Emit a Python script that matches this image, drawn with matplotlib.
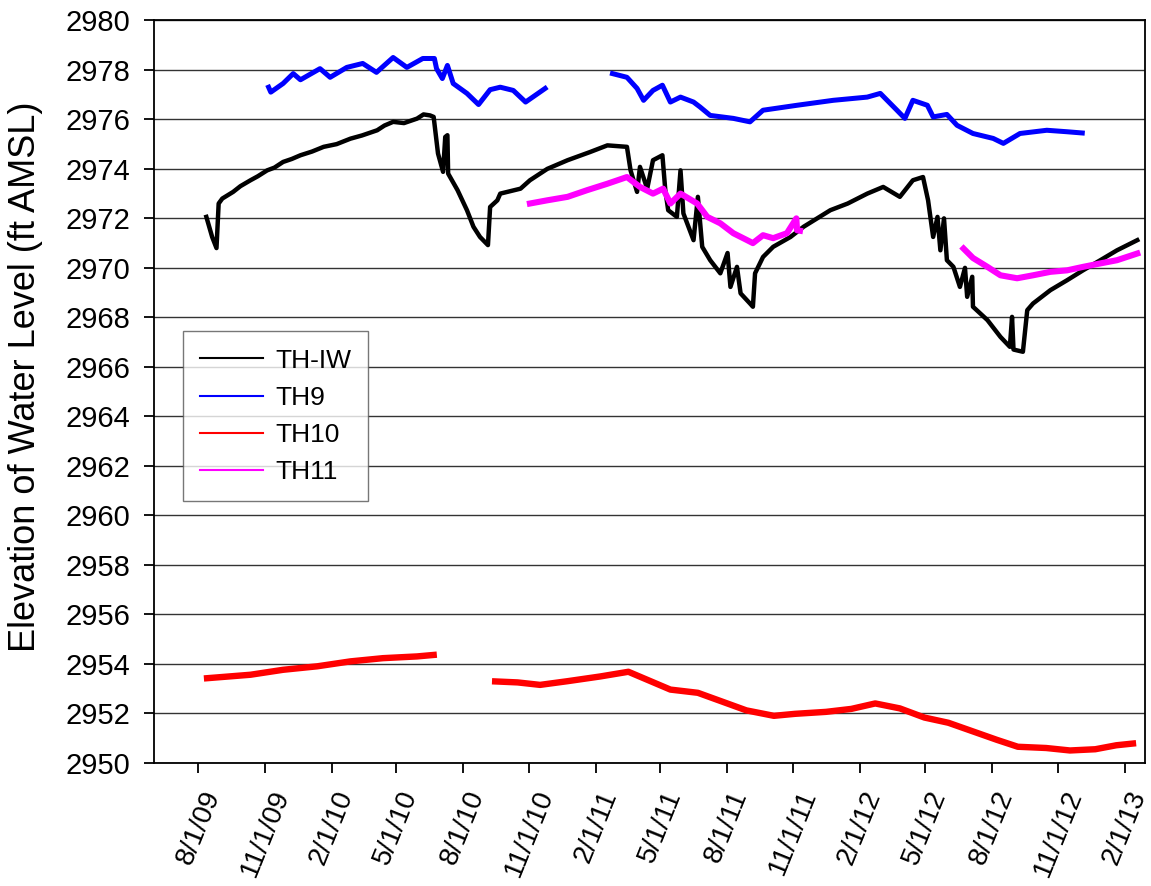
import numpy as np
import pandas as pd
import matplotlib
matplotlib.use("Agg")
import matplotlib.pyplot as plt

plt.rcParams['font.family'] = ['Liberation Sans', 'DejaVu Sans']

# TH-IW (black)
iw_dates = ['2009-08-12', '2009-08-20', '2009-08-26', '2009-08-29', '2009-09-03', '2009-09-18',
            '2009-09-28', '2009-10-12', '2009-10-22', '2009-11-04', '2009-11-14', '2009-11-26',
            '2009-12-08', '2009-12-20', '2010-01-05', '2010-01-21', '2010-02-08', '2010-02-27',
            '2010-03-15', '2010-04-05', '2010-04-15', '2010-04-27', '2010-05-12', '2010-05-30',
            '2010-06-08', '2010-06-17', '2010-06-22', '2010-06-28',
            '2010-07-05', '2010-07-08', '2010-07-11', '2010-07-12', '2010-07-25', '2010-08-07',
            '2010-08-16', '2010-08-25', '2010-09-05', '2010-09-08', '2010-09-18', '2010-09-22',
            '2010-10-20', '2010-11-02', '2010-11-26', '2010-12-24', '2011-01-24', '2011-02-17',
            '2011-03-16', '2011-03-21', '2011-03-30', '2011-04-03', '2011-04-13', '2011-04-21',
            '2011-05-04', '2011-05-08', '2011-05-12', '2011-05-24', '2011-05-29', '2011-06-02',
            '2011-06-09', '2011-06-16', '2011-06-22', '2011-06-28', '2011-07-09', '2011-07-23',
            '2011-08-02', '2011-08-06', '2011-08-15', '2011-08-20', '2011-09-02', '2011-09-06',
            '2011-09-09', '2011-09-20', '2011-10-04', '2011-10-28', '2011-11-15', '2011-12-22',
            '2012-01-15', '2012-02-11', '2012-03-04', '2012-03-27', '2012-04-14', '2012-04-28',
            '2012-05-05', '2012-05-12', '2012-05-18', '2012-05-22', '2012-05-27', '2012-05-31',
            '2012-06-09', '2012-06-18', '2012-06-25', '2012-06-28', '2012-07-05', '2012-07-06',
            '2012-07-26', '2012-08-13', '2012-08-26', '2012-08-29', '2012-08-31', '2012-09-13',
            '2012-09-19', '2012-09-27', '2012-10-21', '2012-11-13', '2012-12-05', '2012-12-29',
            '2013-01-21', '2013-02-18']
iw_vals = [2972.06, 2971.25, 2970.80, 2972.60, 2972.80, 2973.07,
           2973.30, 2973.54, 2973.70, 2973.94, 2974.05, 2974.28,
           2974.40, 2974.55, 2974.70, 2974.89, 2975.00, 2975.22,
           2975.35, 2975.56, 2975.75, 2975.90, 2975.85, 2976.03,
           2976.20, 2976.16, 2976.10, 2974.62,
           2973.88, 2975.29, 2975.36, 2973.81, 2973.14, 2972.33,
           2971.66, 2971.25, 2970.92, 2972.46, 2972.73, 2973.00,
           2973.20, 2973.54, 2974.00, 2974.35, 2974.68, 2974.95,
           2974.89, 2973.94, 2973.07, 2974.08, 2973.20, 2974.35,
           2974.55, 2973.14, 2972.33, 2972.06, 2973.94, 2972.20,
           2971.66, 2971.12, 2972.87, 2970.85, 2970.31, 2969.78,
           2970.60, 2969.23, 2970.04, 2968.97, 2968.56, 2968.43,
           2969.78, 2970.44, 2970.85, 2971.25, 2971.66, 2972.33,
           2972.60, 2973.00, 2973.27, 2972.87, 2973.54, 2973.67,
           2972.73, 2971.25, 2972.06, 2970.71, 2972.00, 2970.31,
           2970.04, 2969.23, 2970.00, 2968.83, 2969.64, 2968.43,
           2967.89, 2967.21, 2966.81, 2968.02, 2966.70, 2966.61,
           2968.29, 2968.56, 2969.10, 2969.50, 2969.90, 2970.31,
           2970.71, 2971.12]

# TH9 (blue), two records
th9a_dates = ['2009-11-06', '2009-11-09', '2009-11-26', '2009-12-10', '2009-12-20', '2010-01-16',
              '2010-01-30', '2010-02-22', '2010-03-16', '2010-04-04', '2010-04-27', '2010-05-16',
              '2010-06-07', '2010-06-23', '2010-06-26', '2010-07-04', '2010-07-11', '2010-07-19',
              '2010-08-07', '2010-08-23', '2010-09-08', '2010-09-22', '2010-10-10', '2010-10-27',
              '2010-11-23']
th9a_vals = [2977.30, 2977.10, 2977.45, 2977.85, 2977.60, 2978.05,
             2977.70, 2978.10, 2978.26, 2977.90, 2978.50, 2978.10,
             2978.46, 2978.46, 2978.05, 2977.65, 2978.18, 2977.45,
             2977.05, 2976.60, 2977.20, 2977.30, 2977.17, 2976.70,
             2977.25]
th9b_dates = ['2011-02-24', '2011-03-16', '2011-03-30', '2011-04-08', '2011-04-21', '2011-05-04',
              '2011-05-15', '2011-05-29', '2011-06-16', '2011-06-25', '2011-07-09', '2011-08-10',
              '2011-09-02', '2011-09-20', '2011-11-06', '2011-12-26', '2012-02-11', '2012-02-29',
              '2012-03-23', '2012-04-03', '2012-04-14', '2012-05-04', '2012-05-12', '2012-05-31',
              '2012-06-14', '2012-07-06', '2012-08-03', '2012-08-17', '2012-09-09', '2012-10-16',
              '2012-11-13', '2012-12-04']
th9b_vals = [2977.85, 2977.70, 2977.25, 2976.77, 2977.17, 2977.38,
             2976.70, 2976.90, 2976.70, 2976.50, 2976.16, 2976.04,
             2975.90, 2976.37, 2976.57, 2976.77, 2976.90, 2977.05,
             2976.37, 2976.04, 2976.77, 2976.57, 2976.10, 2976.20,
             2975.76, 2975.43, 2975.23, 2975.03, 2975.43, 2975.56,
             2975.50, 2975.45]

# TH10 (red), two records
th10a_dates = ['2009-08-13', '2009-10-12', '2009-11-26', '2010-01-12', '2010-02-27', '2010-04-13',
               '2010-05-30', '2010-06-22']
th10a_vals = [2953.42, 2953.56, 2953.76, 2953.90, 2954.10, 2954.23,
              2954.30, 2954.36]
th10b_dates = ['2010-09-15', '2010-10-16', '2010-11-16', '2010-12-24', '2011-02-07', '2011-03-18',
               '2011-05-15', '2011-06-22', '2011-07-26', '2011-08-28', '2011-10-05', '2011-11-03',
               '2011-12-16', '2012-01-20', '2012-02-22', '2012-03-27', '2012-04-30', '2012-06-02',
               '2012-07-06', '2012-08-08', '2012-09-06', '2012-10-15', '2012-11-17', '2012-12-22',
               '2013-01-20', '2013-02-12']
th10b_vals = [2953.29, 2953.25, 2953.15, 2953.30, 2953.49, 2953.68,
              2952.96, 2952.83, 2952.47, 2952.12, 2951.90, 2951.98,
              2952.06, 2952.18, 2952.40, 2952.20, 2951.83, 2951.62,
              2951.27, 2950.93, 2950.65, 2950.60, 2950.50, 2950.55,
              2950.71, 2950.78]

# TH11 (magenta), two records
th11a_dates = ['2010-11-02', '2010-11-26', '2010-12-24', '2011-01-20', '2011-02-17', '2011-03-16',
               '2011-04-03', '2011-04-21', '2011-05-05', '2011-05-15', '2011-05-29', '2011-06-21',
               '2011-07-05', '2011-07-23', '2011-08-10', '2011-08-29', '2011-09-06', '2011-09-20',
               '2011-10-04', '2011-10-23', '2011-11-05', '2011-11-06', '2011-11-10']
th11a_vals = [2972.60, 2972.73, 2972.87, 2973.14, 2973.40, 2973.67,
              2973.27, 2973.00, 2973.20, 2972.60, 2973.00, 2972.60,
              2972.06, 2971.80, 2971.40, 2971.12, 2971.00, 2971.32,
              2971.20, 2971.40, 2972.00, 2971.52, 2971.50]
th11b_dates = ['2012-06-23', '2012-07-06', '2012-07-26', '2012-08-13', '2012-09-05', '2012-09-27',
               '2012-10-21', '2012-11-13', '2012-12-05', '2012-12-29', '2013-01-21', '2013-02-18']
th11b_vals = [2970.78, 2970.40, 2970.04, 2969.70, 2969.58, 2969.70,
              2969.84, 2969.90, 2970.04, 2970.18, 2970.31, 2970.58]

tick_dates = pd.date_range('2009-08-01', '2013-02-01', freq='3MS')

fig = plt.figure(figsize=(11.51, 8.86), dpi=100)
ax = fig.add_axes([0.134, 0.139, 0.861, 0.838])

ax.plot(pd.to_datetime(iw_dates), iw_vals, color='black', lw=3.2, label='TH-IW', zorder=3)
ax.plot(pd.to_datetime(th9a_dates), th9a_vals, color='#0000ff', lw=3.6, label='TH9', zorder=3)
ax.plot(pd.to_datetime(th9b_dates), th9b_vals, color='#0000ff', lw=3.6, zorder=3)
ax.plot(pd.to_datetime(th10a_dates), th10a_vals, color='#ff0000', lw=4.6, label='TH10', zorder=3)
ax.plot(pd.to_datetime(th10b_dates), th10b_vals, color='#ff0000', lw=4.6, zorder=3)
ax.plot(pd.to_datetime(th11a_dates), th11a_vals, color='#ff00ff', lw=4.4, label='TH11', zorder=4)
ax.plot(pd.to_datetime(th11b_dates), th11b_vals, color='#ff00ff', lw=4.4, zorder=4)

ax.set_ylim(2950, 2980)
ax.set_yticks(np.arange(2950, 2981, 2))
ax.set_xlim(pd.Timestamp('2009-06-01'), pd.Timestamp('2013-03-01'))
ax.set_xticks(tick_dates)
ax.set_xticklabels([f"{d.month}/{d.day}/{d.strftime('%y')}" for d in tick_dates],
                   rotation=68, ha='center', va='top', fontsize=20)
ax.yaxis.grid(True, color='#333333', lw=1)
ax.set_axisbelow(True)

ax.tick_params(axis='both', direction='out', length=7, width=1.3)
ax.tick_params(axis='y', pad=10, labelsize=21)
ax.tick_params(axis='x', pad=10)
for s in ax.spines.values():
    s.set_linewidth(1.3)

ax.set_ylabel('Elevation of Water Level (ft AMSL)', fontsize=26)
ax.yaxis.set_label_coords(-0.112, 0.52)

leg = ax.legend(loc='upper left', bbox_to_anchor=(0.029, 0.581), borderaxespad=0,
                fontsize=19, frameon=True, fancybox=False, handlelength=2.4,
                handletextpad=0.45, labelspacing=0.5, borderpad=0.65)
leg.get_frame().set_edgecolor('#555555')
leg.get_frame().set_linewidth(1)
for h in leg.get_lines():
    h.set_linewidth(1.5)

fig.savefig('out.png', dpi=100)
